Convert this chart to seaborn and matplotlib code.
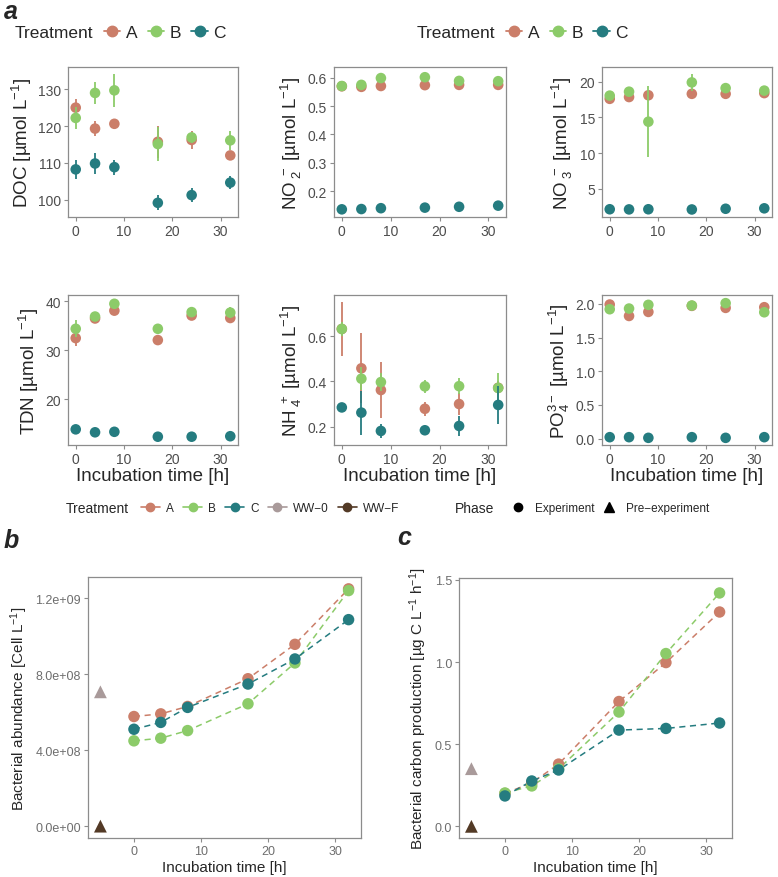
import numpy as np
import pandas as pd
import seaborn as sns
import matplotlib
matplotlib.use("Agg")
from matplotlib import pyplot as plt
from matplotlib.lines import Line2D
from matplotlib.ticker import MultipleLocator, FuncFormatter

# sampling times (h) for the incubation
time = [0, 4, 8, 17, 24, 32]
treat_abc = ["A", "B", "C"]
pre_time = -5

# panel a: mean and error per treatment
doc_mean = {"A": [125.0, 119.3, 120.6, 115.7, 116.2, 112.0],
            "B": [122.2, 129.0, 129.7, 115.1, 116.9, 116.1],
            "C": [108.2, 109.8, 108.8, 99.1, 101.2, 104.6]}
doc_err = {"A": [2.3, 2.0, 1.0, 4.3, 2.5, 1.0],
           "B": [3.0, 3.0, 4.5, 4.5, 1.5, 2.5],
           "C": [2.5, 2.8, 2.0, 2.0, 2.0, 1.8]}

no2_mean = {"A": [0.570, 0.568, 0.571, 0.574, 0.575, 0.575],
            "B": [0.571, 0.575, 0.599, 0.602, 0.589, 0.588],
            "C": [0.136, 0.137, 0.140, 0.142, 0.145, 0.149]}
no2_err = {"A": [0.004, 0.004, 0.004, 0.004, 0.004, 0.004],
           "B": [0.004, 0.006, 0.006, 0.012, 0.005, 0.005],
           "C": [0.003, 0.003, 0.003, 0.003, 0.003, 0.003]}

no3_mean = {"A": [17.6, 17.85, 18.1, 18.3, 18.3, 18.4],
            "B": [18.05, 18.6, 14.4, 19.9, 19.1, 18.75],
            "C": [2.15, 2.13, 2.15, 2.12, 2.22, 2.28]}
no3_err = {"A": [0.3, 0.6, 0.3, 0.3, 0.3, 0.3],
           "B": [0.3, 0.3, 5.0, 1.2, 0.3, 0.3],
           "C": [0.1, 0.1, 0.1, 0.1, 0.1, 0.1]}

tdn_mean = {"A": [32.5, 36.5, 38.1, 32.1, 37.1, 36.6],
            "B": [34.4, 36.9, 39.5, 34.4, 37.8, 37.7],
            "C": [13.9, 13.3, 13.4, 12.4, 12.4, 12.5]}
tdn_err = {"A": [1.6, 0.5, 0.5, 1.0, 0.5, 0.5],
           "B": [1.7, 0.6, 0.4, 0.4, 0.4, 1.1],
           "C": [0.3, 0.3, 0.3, 0.3, 0.3, 0.3]}

nh4_mean = {"A": [0.632, 0.458, 0.362, 0.279, 0.300, 0.372],
            "B": [0.632, 0.412, 0.397, 0.378, 0.379, 0.371],
            "C": [0.285, 0.262, 0.181, 0.184, 0.203, 0.296]}
nh4_err = {"A": [0.12, 0.155, 0.125, 0.03, 0.05, 0.03],
           "B": [0.03, 0.05, 0.04, 0.03, 0.035, 0.065],
           "C": [0.01, 0.097, 0.032, 0.01, 0.045, 0.085]}

po4_mean = {"A": [1.99, 1.82, 1.88, 1.97, 1.94, 1.95],
            "B": [1.92, 1.93, 1.985, 1.975, 2.01, 1.875],
            "C": [0.02, 0.02, 0.01, 0.02, 0.01, 0.02]}
po4_err = {"A": [0.02, 0.02, 0.04, 0.02, 0.02, 0.02],
           "B": [0.02, 0.02, 0.02, 0.02, 0.02, 0.02],
           "C": [0.005, 0.005, 0.005, 0.005, 0.005, 0.005]}

# panel b: bacterial abundance (cell / L)
abund = {"A": [5.77e8, 5.91e8, 6.30e8, 7.76e8, 9.57e8, 1.249e9],
         "B": [4.49e8, 4.63e8, 5.03e8, 6.44e8, 8.59e8, 1.240e9],
         "C": [5.10e8, 5.46e8, 6.25e8, 7.48e8, 8.80e8, 1.087e9]}
abund_pre = {"WW-0": 7.07e8, "WW-F": 0.0}

# panel c: bacterial carbon production
bcp = {"A": [0.200, 0.265, 0.379, 0.760, 0.997, 1.305],
       "B": [0.203, 0.246, 0.350, 0.696, 1.052, 1.421],
       "C": [0.185, 0.276, 0.343, 0.586, 0.596, 0.629]}
bcp_pre = {"WW-0": 0.351, "WW-F": 0.0}

palette = {"A": "#CB7E69", "B": "#8CCB69", "C": "#257C80",
           "WW-0": "#A99A9A", "WW-F": "#533A26"}
ww_label = {"WW-0": "WW\u22120", "WW-F": "WW\u2212F"}


def long_table(means, errs, name):
    rows = []
    for t in treat_abc:
        for x, m, e in zip(time, means[t], errs[t]):
            rows.append({"variable": name, "Treatment": t, "time": x, "mean": m, "err": e})
    return rows


rows = []
rows += long_table(doc_mean, doc_err, "DOC")
rows += long_table(no2_mean, no2_err, "NO2")
rows += long_table(no3_mean, no3_err, "NO3")
rows += long_table(tdn_mean, tdn_err, "TDN")
rows += long_table(nh4_mean, nh4_err, "NH4")
rows += long_table(po4_mean, po4_err, "PO4")
nut = pd.DataFrame(rows)

sns.set_theme(style="ticks")
plt.rcParams["font.family"] = ["Liberation Sans", "DejaVu Sans"]
plt.rcParams["mathtext.fontset"] = "custom"
plt.rcParams["mathtext.rm"] = "Liberation Sans"
plt.rcParams["mathtext.it"] = "Liberation Sans:italic"
plt.rcParams["mathtext.bf"] = "Liberation Sans:bold"
plt.rcParams["mathtext.default"] = "regular"

W, H = 778, 878
fig = plt.figure(figsize=(W / 100, H / 100), dpi=100)


def px_axes(x0, y0, x1, y1):
    return fig.add_axes([x0 / W, 1 - y1 / H, (x1 - x0) / W, (y1 - y0) / H])


def style_axes(ax, tick_size, label_size, tick_col="#4d4d4d"):
    for sp in ax.spines.values():
        sp.set_color("#8c8c8c")
        sp.set_linewidth(0.9)
    ax.tick_params(direction="out", length=3, width=0.8, color="#8c8c8c",
                   labelcolor=tick_col, labelsize=tick_size, pad=2)
    ax.xaxis.label.set_size(label_size)
    ax.yaxis.label.set_size(label_size)


def nutrient_panel(ax, var, ylabel, step, xlabel=None, fmt=None):
    sub = nut[nut["variable"] == var]
    for i, t in enumerate(treat_abc):
        g = sub[sub["Treatment"] == t]
        ax.vlines(g["time"], g["mean"] - g["err"], g["mean"] + g["err"],
                  color=palette[t], lw=1.3, zorder=2 + 2 * i)
        sns.scatterplot(data=g, x="time", y="mean", color=palette[t], s=58,
                        edgecolor="none", zorder=3 + 2 * i, ax=ax, legend=False)
    ax.xaxis.set_major_locator(MultipleLocator(10))
    ax.yaxis.set_major_locator(MultipleLocator(step))
    if fmt:
        ax.yaxis.set_major_formatter(FuncFormatter(fmt))
    ax.set_xlabel(xlabel if xlabel else "", labelpad=1)
    ax.set_ylabel(ylabel, labelpad=3)
    style_axes(ax, 10, 13.5)


# ---- panel a ----
ax_doc = px_axes(68, 68, 238, 218)
ax_no2 = px_axes(334, 68, 506, 218)
ax_no3 = px_axes(602, 68, 772, 218)
ax_tdn = px_axes(68, 296, 238, 446)
ax_nh4 = px_axes(334, 296, 506, 446)
ax_po4 = px_axes(602, 296, 772, 446)

unit = r" [µmol L$^{-1}$]"
nutrient_panel(ax_doc, "DOC", "DOC" + unit, 10)
nutrient_panel(ax_no2, "NO2", r"NO$_{\ 2}^{\ -}$" + unit, 0.1)
nutrient_panel(ax_no3, "NO3", r"NO$_{\ 3}^{\ -}$" + unit, 5)
nutrient_panel(ax_tdn, "TDN", "TDN" + unit, 10, "Incubation time [h]")
nutrient_panel(ax_nh4, "NH4", r"NH$_{\ 4}^{\ +}$" + unit, 0.2, "Incubation time [h]")
nutrient_panel(ax_po4, "PO4", r"PO$_4^{3-}$" + unit, 0.5, "Incubation time [h]",
               fmt=lambda v, p: f"{v:.1f}")


# ---- panels b and c ----
def growth_panel(ax, values, pre, ylabel, step, fmt):
    gdf = pd.DataFrame([{"Treatment": t, "time": x, "value": v}
                        for t in treat_abc for x, v in zip(time, values[t])])
    pdf = pd.DataFrame([{"Treatment": k, "time": pre_time, "value": v} for k, v in pre.items()])
    for t in treat_abc:
        g = gdf[gdf["Treatment"] == t]
        sns.lineplot(data=g, x="time", y="value", color=palette[t], lw=1.1,
                     linestyle=(0, (4, 3)), errorbar=None, zorder=2, ax=ax)
    for i, t in enumerate(treat_abc):
        g = gdf[gdf["Treatment"] == t]
        sns.scatterplot(data=g, x="time", y="value", color=palette[t], s=68,
                        edgecolor="none", zorder=3 + i, ax=ax, legend=False)
    sns.scatterplot(data=pdf, x="time", y="value", hue="Treatment", palette=palette,
                    marker="^", s=85, edgecolor="none", zorder=6, ax=ax, legend=False)
    ax.xaxis.set_major_locator(MultipleLocator(10))
    ax.yaxis.set_major_locator(MultipleLocator(step))
    ax.yaxis.set_major_formatter(FuncFormatter(fmt))
    ax.set_xlabel("Incubation time [h]", labelpad=2)
    ax.set_ylabel(ylabel, labelpad=4)
    style_axes(ax, 9, 11, tick_col="#6e6e6e")


ax_b = px_axes(88, 578, 361, 839)
ax_c = px_axes(459, 579, 732, 839)
growth_panel(ax_b, abund, abund_pre, r"Bacterial abundance [Cell L$^{-1}$]", 4e8,
             lambda v, p: f"{v:.1e}")
growth_panel(ax_c, bcp, bcp_pre, r"Bacterial carbon production [µg C L$^{-1}$ h$^{-1}$]", 0.5,
             lambda v, p: f"{v:.1f}")
ax_c.set_ylim(top=1.512)

# ---- legends ----
def key(color, marker="o", ms=7.5, lw=1.3):
    return Line2D([0], [0], color=color, marker=marker, markersize=ms, lw=lw)


top_handles = [key(palette[t]) for t in treat_abc]
for tx, lx in [(15, 104), (417, 506)]:
    fig.text(tx / W, 1 - 33 / H, "Treatment", fontsize=12.5, va="center", ha="left")
    fig.legend(top_handles, treat_abc, loc="center left", bbox_to_anchor=(lx / W, 1 - 33 / H),
               ncol=3, frameon=False, fontsize=12.5, handlelength=0.95, handletextpad=0.3,
               columnspacing=0.6, borderaxespad=0, borderpad=0)

all_treat = treat_abc + ["WW-0", "WW-F"]
fig.text(66 / W, 1 - 509 / H, "Treatment", fontsize=10, va="center", ha="left")
fig.legend([key(palette[t], ms=6, lw=1.2) for t in all_treat],
           [ww_label.get(t, t) for t in all_treat],
           loc="center left", bbox_to_anchor=(141 / W, 1 - 509 / H), ncol=5, frameon=False,
           fontsize=8.5, handlelength=1.6, handletextpad=0.5, columnspacing=0.8,
           borderaxespad=0, borderpad=0)

fig.text(455 / W, 1 - 509 / H, "Phase", fontsize=10, va="center", ha="left")
fig.legend([Line2D([0], [0], color="black", marker="o", ms=6, lw=0),
            Line2D([0], [0], color="black", marker="^", ms=7, lw=0)],
           ["Experiment", "Pre\u2212experiment"],
           loc="center left", bbox_to_anchor=(511 / W, 1 - 509 / H), ncol=2, frameon=False,
           fontsize=8.5, handlelength=1.2, handletextpad=0.8, columnspacing=0.7,
           borderaxespad=0, borderpad=0)

# panel tags
for tag, x, y in [("a", 4, 19), ("b", 4, 548), ("c", 397, 545)]:
    fig.text(x / W, 1 - y / H, tag, fontsize=18, fontweight="bold", fontstyle="italic",
             va="baseline", ha="left")

fig.savefig("out.png", dpi=100)
